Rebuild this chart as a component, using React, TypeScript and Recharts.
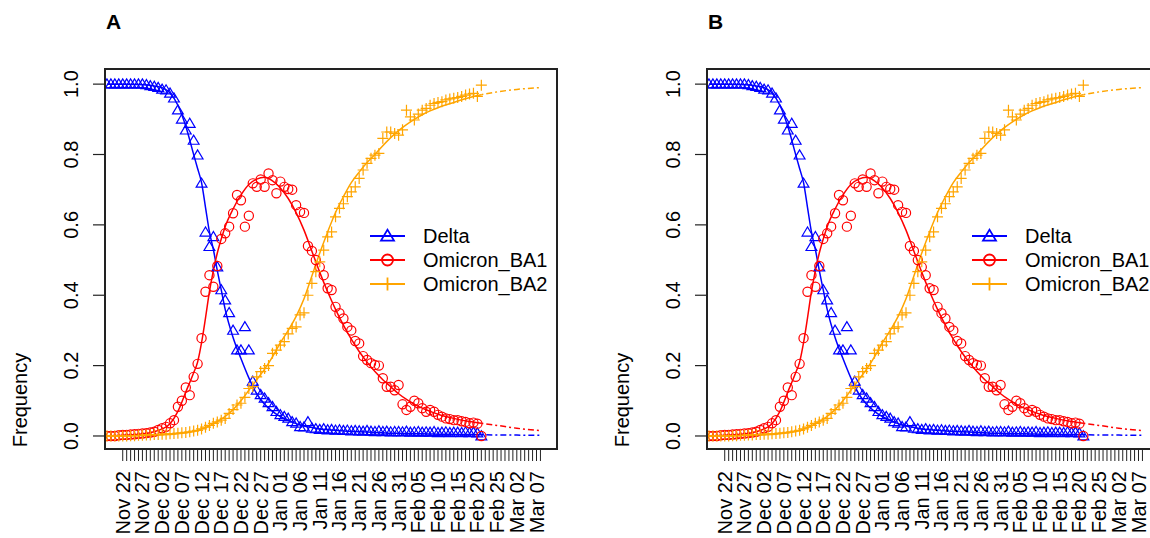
import React from "react";
import { ComposedChart, Scatter, Line, XAxis, YAxis, Legend } from "recharts";

// observed daily frequencies, first value is Nov 18 (day -4, Nov 22 = day 0)
const FIRST_DAY = -4;

const deltaObs = [
    1.0, 1.0, 1.0, 1.0, 1.0, 1.0, 1.0, 1.0, 1.0, 1.0, 0.998,
    0.995, 0.993, 0.99, 0.985, 0.983, 0.974, 0.96, 0.926, 0.9, 0.869,
    0.888, 0.84, 0.798, 0.718, 0.579, 0.538, 0.566, 0.48, 0.415, 0.386,
    0.35, 0.3, 0.244, 0.244, 0.31, 0.244, 0.155, 0.13, 0.117, 0.107,
    0.094, 0.083, 0.069, 0.06, 0.055, 0.05, 0.04, 0.036, 0.026, 0.025,
    0.04, 0.022, 0.02, 0.018, 0.02, 0.017, 0.018, 0.016, 0.017, 0.015,
    0.016, 0.014, 0.015, 0.014, 0.013, 0.015, 0.013, 0.012, 0.014, 0.012,
    0.013, 0.011, 0.012, 0.012, 0.011, 0.013, 0.01, 0.011, 0.012, 0.01,
    0.011, 0.01, 0.012, 0.009, 0.01, 0.011, 0.009, 0.01, 0.01, 0.009,
    0.011, 0.009, 0.01, 0.008, 0.0,
];

const ba1Obs = [
    0.0, 0.0, 0.0, 0.002, 0.003, 0.003, 0.004, 0.005, 0.006, 0.007,
    0.008, 0.01, 0.012, 0.017, 0.022, 0.026, 0.036, 0.045, 0.083, 0.1,
    0.138, 0.116, 0.168, 0.205, 0.278, 0.41, 0.457, 0.424, 0.483, 0.56,
    0.576, 0.595, 0.633, 0.685, 0.67, 0.595, 0.626, 0.718, 0.708, 0.729,
    0.708, 0.746, 0.727, 0.69, 0.723, 0.708, 0.702, 0.7, 0.656, 0.637,
    0.634, 0.54, 0.526, 0.5, 0.48, 0.457, 0.42, 0.415, 0.367, 0.349,
    0.334, 0.31, 0.3, 0.27, 0.263, 0.227, 0.216, 0.207, 0.202, 0.2,
    0.164, 0.14, 0.14, 0.13, 0.145, 0.09, 0.074, 0.083, 0.1, 0.093,
    0.079, 0.069, 0.074, 0.069, 0.06, 0.055, 0.05, 0.048, 0.045, 0.045,
    0.042, 0.04, 0.036, 0.038, 0.035, 0.0,
];

const ba2Obs = [
    0.0, 0.0, 0.0, 0.0, 0.0, 0.0, 0.001, 0.001, 0.002, 0.002,
    0.003, 0.003, 0.004, 0.004, 0.005, 0.005, 0.006, 0.007, 0.008, 0.009,
    0.01, 0.012, 0.014, 0.016, 0.02, 0.025, 0.03, 0.036, 0.04, 0.045,
    0.05, 0.064, 0.075, 0.088, 0.093, 0.11, 0.135, 0.14, 0.168, 0.183,
    0.192, 0.2, 0.235, 0.244, 0.258, 0.268, 0.29, 0.306, 0.31, 0.344,
    0.35, 0.4, 0.434, 0.467, 0.495, 0.528, 0.566, 0.58, 0.623, 0.647,
    0.66, 0.68, 0.694, 0.708, 0.732, 0.756, 0.775, 0.789, 0.798, 0.803,
    0.846, 0.864, 0.864, 0.86, 0.855, 0.87, 0.926, 0.907, 0.898, 0.915,
    0.926, 0.931, 0.94, 0.945, 0.948, 0.95, 0.955, 0.958, 0.96, 0.962,
    0.965, 0.969, 0.972, 0.974, 0.965, 0.997,
];

// fitted curves (solid over the observed range)
const fitDays = [
    -4, 0, 4, 8, 10, 12, 14, 16, 18, 19, 20, 21, 22, 23, 24, 25, 26, 28, 30, 32,
    34, 36, 38, 40, 42, 44, 46, 48, 50, 52, 54, 56, 58, 60, 62, 64, 66, 68, 70,
    72, 74, 76, 78, 80, 84, 88, 91,
];
const deltaFit = [
    1.0, 1.0, 0.999, 0.995, 0.99, 0.975, 0.94, 0.88, 0.8, 0.76, 0.72, 0.65, 0.58,
    0.53, 0.47, 0.415, 0.36, 0.28, 0.22, 0.165, 0.12, 0.09, 0.07, 0.055, 0.045,
    0.035, 0.028, 0.024, 0.02, 0.018, 0.016, 0.014, 0.013, 0.012, 0.011, 0.01,
    0.009, 0.008, 0.0075, 0.007, 0.0065, 0.006, 0.0055, 0.005, 0.0045, 0.004,
    0.0035,
];
const ba1Fit = [
    0.0, 0.002, 0.005, 0.012, 0.02, 0.035, 0.07, 0.125, 0.18, 0.21, 0.265, 0.335,
    0.41, 0.47, 0.52, 0.56, 0.595, 0.645, 0.685, 0.715, 0.73, 0.735, 0.725, 0.705,
    0.675, 0.635, 0.585, 0.525, 0.465, 0.41, 0.36, 0.315, 0.275, 0.24, 0.21,
    0.183, 0.16, 0.14, 0.12, 0.104, 0.09, 0.079, 0.07, 0.062, 0.05, 0.041, 0.036,
];
const ba2Fit = [
    0.0, 0.0005, 0.001, 0.002, 0.003, 0.004, 0.006, 0.009, 0.013, 0.016, 0.02,
    0.024, 0.029, 0.035, 0.041, 0.048, 0.056, 0.075, 0.1, 0.13, 0.16, 0.19, 0.225,
    0.265, 0.3, 0.34, 0.39, 0.455, 0.52, 0.58, 0.635, 0.68, 0.72, 0.75, 0.777,
    0.8, 0.825, 0.848, 0.868, 0.885, 0.9, 0.913, 0.924, 0.933, 0.948, 0.962, 0.97,
];

// projected part of the fit (dashed)
const extDays = [91, 95, 100, 106];
const deltaExt = [0.0035, 0.003, 0.0025, 0.002];
const ba1Ext = [0.036, 0.03, 0.022, 0.015];
const ba2Ext = [0.97, 0.978, 0.985, 0.99];

const dateLabels = [
    "Nov 22", "Nov 27", "Dec 02", "Dec 07", "Dec 12", "Dec 17", "Dec 22",
    "Dec 27", "Jan 01", "Jan 06", "Jan 11", "Jan 16", "Jan 21", "Jan 26",
    "Jan 31", "Feb 05", "Feb 10", "Feb 15", "Feb 20", "Feb 25", "Mar 02",
    "Mar 07",
];
const LAST_TICK_DAY = 106;
const yTicks = [0, 0.2, 0.4, 0.6, 0.8, 1.0];
const seriesNames = ["Delta", "Omicron_BA1", "Omicron_BA2"];

const BLUE = "#0000ff";
const RED = "#ff0000";
const ORANGE = "#ffa500";
const AXIS = "#222";
const FONT = '"Liberation Sans", Arial, Helvetica, sans-serif';

const X_DOMAIN = [-4.5, 110.2];
const Y_DOMAIN = [-0.037, 1.043];

// panel layout
const W = 600;
const H = 538;
const Y_AXIS_W = 105;
const X_AXIS_H = 89;
const TOP = 69;
const RIGHT = 43;

const toPoints = (vals: number[]) => vals.map((y, i) => ({ x: FIRST_DAY + i, y }));
const toCurve = (days: number[], vals: number[]) => days.map((x, i) => ({ x, y: vals[i] }));

const tickDays = Array.from({ length: LAST_TICK_DAY + 1 }, (_, i) => i);

type Kind = "tri" | "circle" | "plus";

const Marker = ({ kind, cx, cy, color, s = 1, sw = 1.2 }: {
    kind: Kind; cx: number; cy: number; color: string; s?: number; sw?: number;
}) => {
    if (kind === "tri") {
        const pts = `${cx},${cy - 5.3 * s} ${cx - 5.4 * s},${cy + 3.8 * s} ${cx + 5.4 * s},${cy + 3.8 * s}`;
        return <polygon points={pts} fill="none" stroke={color} strokeWidth={sw} />;
    }
    if (kind === "circle") {
        return <circle cx={cx} cy={cy} r={4.6 * s} fill="none" stroke={color} strokeWidth={sw} />;
    }
    const a = 5.5 * s;
    return (
        <path
            d={`M${cx - a},${cy}H${cx + a}M${cx},${cy - a}V${cy + a}`}
            stroke={color}
            strokeWidth={sw}
            fill="none"
        />
    );
};

const shapeFor = (kind: Kind, color: string) => (p: any) =>
    <Marker kind={kind} cx={p.cx} cy={p.cy} color={color} />;

const XTick = (props: any) => {
    const { x, y, payload } = props;
    const day = payload.value as number;
    if (day % 5 !== 0) return <g />;
    const bx = x + 7;
    const by = y + 8;
    return (
        <text
            x={bx}
            y={by}
            transform={`rotate(-90 ${bx} ${by})`}
            textAnchor="end"
            fontSize={20}
            fontFamily={FONT}
            fill="#000"
        >
            {dateLabels[day / 5]}
        </text>
    );
};

const YTick = (props: any) => {
    const { x, y, payload } = props;
    const bx = x - 13;
    return (
        <text
            x={bx}
            y={y}
            transform={`rotate(-90 ${bx} ${y})`}
            textAnchor="middle"
            fontSize={20}
            fontFamily={FONT}
            fill="#000"
        >
            {Number(payload.value).toFixed(1)}
        </text>
    );
};

const FreqLabel = (props: any) => {
    const vb = props.viewBox || { x: 0, y: TOP };
    const lx = vb.x + 27;
    const ly = vb.y + 331;
    return (
        <text
            x={lx}
            y={ly}
            transform={`rotate(-90 ${lx} ${ly})`}
            textAnchor="middle"
            fontSize={20}
            fontFamily={FONT}
            fill="#000"
        >
            Frequency
        </text>
    );
};

const legendRows: { kind: Kind; color: string }[] = [
    { kind: "tri", color: BLUE },
    { kind: "circle", color: RED },
    { kind: "plus", color: ORANGE },
];

const LegendBox = () => (
    <svg width={200} height={80} style={{ display: "block", overflow: "visible" }}>
        {legendRows.map((r, i) => {
            const cy = 14 + i * 24;
            return (
                <g key={seriesNames[i]}>
                    <line x1={5} x2={40} y1={cy} y2={cy} stroke={r.color} strokeWidth={2.2} />
                    <Marker kind={r.kind} cx={22.5} cy={cy} color={r.color} s={1.2} sw={1.8} />
                    <text x={58} y={cy + 7} fontSize={20} fontFamily={FONT} fill="#000">
                        {seriesNames[i]}
                    </text>
                </g>
            );
        })}
    </svg>
);

const series = [
    { kind: "tri" as Kind, color: BLUE, obs: deltaObs, fit: deltaFit, ext: deltaExt },
    { kind: "circle" as Kind, color: RED, obs: ba1Obs, fit: ba1Fit, ext: ba1Ext },
    { kind: "plus" as Kind, color: ORANGE, obs: ba2Obs, fit: ba2Fit, ext: ba2Ext },
];

const Panel: React.FC<{ title: string; left: number }> = ({ title, left }) => (
    <div style={{ position: "absolute", left, top: 0, width: W, height: H }}>
        <div
            style={{
                position: "absolute",
                left: 106,
                top: 11,
                fontSize: 21,
                lineHeight: "21px",
                fontWeight: "bold",
                fontFamily: FONT,
            }}
        >
            {title}
        </div>
        <ComposedChart width={W} height={H} margin={{ top: TOP, right: RIGHT, bottom: 0, left: 0 }}>
            <XAxis
                xAxisId="bottom"
                dataKey="x"
                type="number"
                domain={X_DOMAIN}
                allowDataOverflow
                ticks={tickDays}
                interval={0}
                tick={<XTick />}
                tickSize={12}
                height={X_AXIS_H}
                axisLine={{ stroke: AXIS, strokeWidth: 1.5 }}
                tickLine={{ stroke: AXIS, strokeWidth: 1 }}
            />
            {/* top and right axes close the frame (R's box()) */}
            <XAxis
                xAxisId="top"
                orientation="top"
                dataKey="x"
                type="number"
                domain={X_DOMAIN}
                allowDataOverflow
                height={0}
                tick={false}
                tickLine={false}
                axisLine={{ stroke: AXIS, strokeWidth: 1.5 }}
            />
            <YAxis
                yAxisId="left"
                dataKey="y"
                type="number"
                domain={Y_DOMAIN}
                allowDataOverflow
                ticks={yTicks}
                interval={0}
                tick={<YTick />}
                tickSize={12}
                width={Y_AXIS_W}
                axisLine={{ stroke: AXIS, strokeWidth: 1.5 }}
                tickLine={{ stroke: AXIS, strokeWidth: 1.2 }}
                label={<FreqLabel />}
            />
            <YAxis
                yAxisId="right"
                orientation="right"
                dataKey="y"
                type="number"
                domain={Y_DOMAIN}
                allowDataOverflow
                width={0}
                tick={false}
                tickLine={false}
                axisLine={{ stroke: AXIS, strokeWidth: 1.5 }}
            />
            {series.map((s, i) => (
                <Scatter
                    key={`pts-${i}`}
                    xAxisId="bottom"
                    yAxisId="left"
                    data={toPoints(s.obs)}
                    dataKey="y"
                    shape={shapeFor(s.kind, s.color)}
                    isAnimationActive={false}
                />
            ))}
            {series.map((s, i) => (
                <Line
                    key={`fit-${i}`}
                    xAxisId="bottom"
                    yAxisId="left"
                    data={toCurve(fitDays, s.fit)}
                    dataKey="y"
                    type="monotone"
                    stroke={s.color}
                    strokeWidth={1.5}
                    dot={false}
                    isAnimationActive={false}
                />
            ))}
            {/* same domains as bottom/left, so these land in the same place */}
            {series.map((s, i) => (
                <Line
                    key={`ext-${i}`}
                    xAxisId="top"
                    yAxisId="right"
                    data={toCurve(extDays, s.ext)}
                    dataKey="y"
                    type="monotone"
                    stroke={s.color}
                    strokeWidth={1.5}
                    strokeDasharray="2 3 6 3"
                    dot={false}
                    isAnimationActive={false}
                />
            ))}
            <Legend
                content={<LegendBox />}
                layout="horizontal"
                verticalAlign="middle"
                align="center"
                wrapperStyle={{ left: 365, top: 222, width: 200, height: 80 }}
            />
        </ComposedChart>
        <div
            style={{
                position: "absolute",
                left: Y_AXIS_W - 1,
                top: TOP - 1,
                width: W - RIGHT - Y_AXIS_W + 2,
                height: H - X_AXIS_H - TOP + 2,
                border: `2px solid ${AXIS}`,
                boxSizing: "border-box",
                background: "transparent",
                zIndex: 10,
                pointerEvents: "none",
            }}
        />
    </div>
);

export default function App() {
    return (
        <div
            style={{
                position: "absolute",
                left: 0,
                top: 0,
                width: 1150,
                height: 538,
                overflow: "hidden",
                background: "#fff",
                fontFamily: FONT,
            }}
        >
            <Panel title="A" left={0} />
            <Panel title="B" left={602} />
        </div>
    );
}
